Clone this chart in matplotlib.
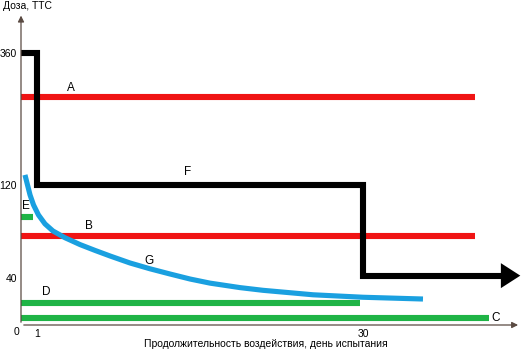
import numpy as np
import matplotlib
matplotlib.use("Agg")
import matplotlib.pyplot as plt

plt.rcParams['font.family'] = ['Liberation Sans', 'DejaVu Sans']

# ---- data ----
y_ticks = [40, 120, 360]
x_ticks = [1, 30]
x_tick_labels = ["1", "30"]

# horizontal bars: (start day, end day, dose)
A_days = [-0.42, 40.0]; A_dose = 280
B_days = [-0.42, 40.0]; B_dose = 76
C_days = [-0.42, 41.2]; C_dose = 6
D_days = [-0.42, 29.7]; D_dose = 19
E_days = [-0.42, 0.65]; E_dose = 92

# F step line
F_days = [-0.42, 1, 1, 30, 30, 42.3]
F_dose = [360, 360, 120, 120, 42, 42]
F_tip_day = 44.0

# G decay curve
G_days = [-0.07, 0.155, 0.38, 0.69, 1.13, 1.71, 2.42, 3.49, 4.83, 6.16, 7.5,
          9.27, 11.05, 12.84, 14.62, 16.4, 19.06, 21.11, 25.56, 30.0, 35.34]
G_dose = [138.2, 120, 111.4, 102.8, 94.2, 86.5, 80.4, 74.6, 68.7, 63.7, 58.9,
          52.9, 47.9, 43.4, 39.1, 35.6, 31.8, 29.5, 25.7, 23.6, 22.1]

# schematic (non-linear) dose axis knots
dose_knots = np.array([0, 40, 120, 360, 480])
pos_knots = np.array([0, 47, 140, 272, 338])

def fwd(v):
    v = np.asarray(v, dtype=float)
    return np.interp(v, dose_knots, pos_knots)

def inv(p):
    p = np.asarray(p, dtype=float)
    return np.interp(p, pos_knots, dose_knots)

RED = '#f01414'
GREEN = '#1fb446'
BLUE = '#1aa0e0'
AXC = '#5a4a42'

W, H = 522, 351
fig = plt.figure(figsize=(W/100, H/100), dpi=100)
ax = fig.add_axes([21/W, (H-325)/H, (522-21)/W, 325/H])
ax.set_yscale('function', functions=(fwd, inv))
ax.set_xlim(-0.4235, 44.15)
ax.set_ylim(0, 456)
for s in ax.spines.values():
    s.set_visible(False)

lw_bar = 4.4
for days, dose, c in [(A_days, A_dose, RED), (B_days, B_dose, RED),
                      (C_days, C_dose, GREEN), (D_days, D_dose, GREEN),
                      (E_days, E_dose, GREEN)]:
    ax.plot(days, [dose, dose], color=c, lw=lw_bar, solid_capstyle='butt', clip_on=False)

ax.plot(F_days, F_dose, color='black', lw=lw_bar, solid_capstyle='butt',
        solid_joinstyle='miter', clip_on=False)
ax.annotate('', xy=(F_tip_day, F_dose[-1]), xytext=(F_days[-1] - 0.3, F_dose[-1]),
            arrowprops=dict(facecolor='black', edgecolor='none', width=0.1,
                            headwidth=18, headlength=14, shrink=0),
            annotation_clip=False)

ax.plot(G_days, G_dose, color=BLUE, lw=3.7, solid_capstyle='butt',
        solid_joinstyle='round', clip_on=False)

# axes arrows
ax.annotate('', xy=(44.05, 0), xytext=(-0.4235, 0),
            arrowprops=dict(arrowstyle='-|>', color=AXC, lw=0.9, mutation_scale=9),
            annotation_clip=False)
ax.annotate('', xy=(-0.4235, inv(325-13)), xytext=(-0.4235, 0),
            arrowprops=dict(arrowstyle='-|>', color=AXC, lw=0.9, mutation_scale=9),
            annotation_clip=False)

# ticks
ax.set_yticks(y_ticks)
ax.set_yticklabels([str(v) for v in y_ticks])
ax.set_xticks(x_ticks)
ax.set_xticklabels(x_tick_labels)
ax.tick_params(axis='both', length=0, labelsize=7.5, colors='black')
ax.tick_params(axis='y', pad=3)
ax.tick_params(axis='x', pad=3)
ax.minorticks_off()

# series labels
labels = {'A': (4.0, 296), 'F': (14.4, 144), 'E': (0.0, 102), 'B': (5.65, 85),
          'G': (11.0, 55), 'D': (1.8, 28), 'C': (41.8, 6)}
for k, (x, y) in labels.items():
    ax.text(x, y, k, fontsize=8.5, ha='center', va='center', clip_on=False)

fig.text(3/W, 1 - 6/H, 'Доза, ТТС', fontsize=7.5, ha='left', va='center')
fig.text(17/W, 1 - 332/H, '0', fontsize=7.5, ha='center', va='center')
fig.text(266/W, 1 - 344/H, 'Продолжительность воздействия, день испытания',
         fontsize=7.5, ha='center', va='center')

fig.savefig('out.png', dpi=100)
